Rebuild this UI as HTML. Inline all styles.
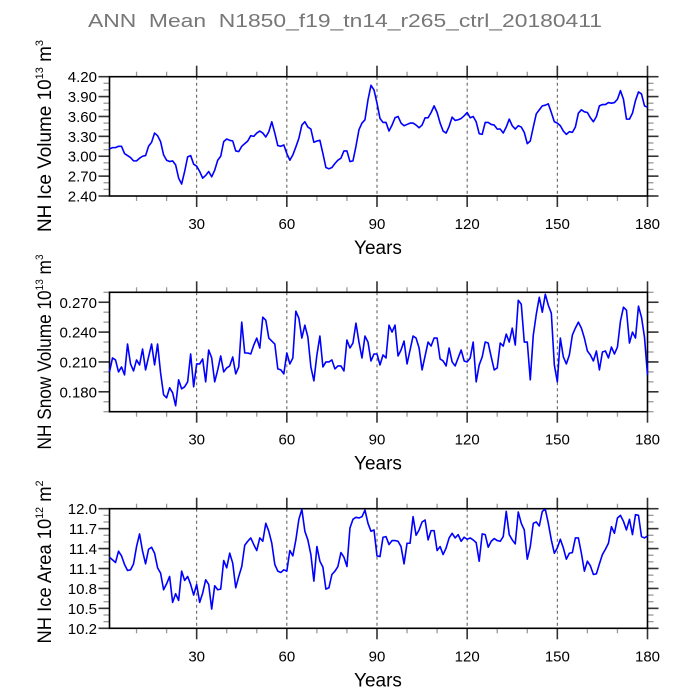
<!DOCTYPE html>
<html><head><meta charset="utf-8"><style>
html,body{margin:0;padding:0;background:#fff;}
svg{display:block;font-family:"Liberation Sans",sans-serif;}
</style></head><body>
<svg id="chart" width="689" height="689" viewBox="0 0 689 689" xmlns="http://www.w3.org/2000/svg">
<rect width="689" height="689" fill="#fff"/>
<text x="345" y="27" text-anchor="middle" font-size="18" fill="#777" textLength="514" lengthAdjust="spacingAndGlyphs" style="white-space:pre">ANN  Mean  N1850_f19_tn14_r265_ctrl_20180411</text>
</svg>
<script>
const years = Array.from({length:180},(_, i)=>i+1);
const xTicks = [30,60,90,120,150,180];
const iceVolume = [3.11,3.13,3.13,3.15,3.15,3.04,3.01,2.98,2.93,2.93,
2.97,3.00,3.01,3.15,3.21,3.35,3.31,3.22,3.02,2.94,
2.92,2.93,2.87,2.67,2.58,2.77,2.99,3.01,2.88,2.85,
2.77,2.67,2.71,2.77,2.69,2.79,2.94,3.00,3.22,3.26,
3.24,3.23,3.08,3.07,3.15,3.19,3.23,3.31,3.30,3.35,
3.38,3.35,3.29,3.37,3.52,3.35,3.16,3.15,3.17,3.04,
2.94,3.02,3.14,3.27,3.47,3.52,3.44,3.41,3.21,3.23,
3.24,3.04,2.83,2.81,2.83,2.89,2.94,2.97,3.08,3.08,
2.92,2.93,3.15,3.40,3.50,3.55,3.85,4.07,4.00,3.80,
3.57,
3.51,3.51,3.38,3.47,3.58,3.60,3.50,3.46,3.48,3.50,
3.50,3.47,3.43,3.47,3.58,3.58,3.66,3.76,3.66,3.50,
3.38,3.35,3.45,3.59,3.54,3.55,3.57,3.61,3.66,3.58,
3.60,3.52,3.34,3.33,3.51,3.51,3.48,3.47,3.41,3.41,
3.35,3.44,3.56,3.46,3.41,3.46,3.44,3.36,3.19,3.23,
3.44,3.64,3.70,3.76,3.77,3.79,3.66,3.52,3.50,3.46,
3.38,3.33,3.37,3.36,3.44,3.65,3.70,3.67,3.66,3.58,
3.52,3.60,3.76,3.78,3.78,3.81,3.80,3.81,3.86,3.99,
3.86,3.56,3.56,3.65,3.84,3.97,3.94,3.76,3.74];
const snowVolume = [.200,.214,.212,.200,.205,.197,.228,.208,.201,.212,
.207,.223,.202,.215,.228,.207,.228,.199,.177,.174,
.184,.179,.166,.192,.183,.185,.190,.218,.185,.208,
.208,.213,.190,.222,.214,.190,.202,.216,.200,.204,
.206,.215,.198,.205,.250,.219,.219,.218,.227,.234,
.224,.255,.252,.234,.231,.228,.203,.202,.198,.219,
.208,.214,.261,.254,.234,.247,.235,.205,.191,.217,
.236,.205,.210,.210,.212,.203,.206,.206,.201,.232,
.224,.229,.249,.230,.214,.236,.230,.211,.218,.218,
.207,
.217,.214,.247,.240,.247,.216,.222,.231,.208,.222,
.236,.234,.224,.202,.216,.230,.226,.234,.234,.213,
.211,.206,.224,.210,.206,.214,.222,.211,.210,.214,
.230,.190,.207,.215,.230,.229,.215,.202,.204,.229,
.226,.238,.230,.244,.227,.272,.268,.230,.230,.192,
.237,.258,.275,.260,.278,.267,.259,.207,.190,.234,
.215,.208,.217,.237,.244,.250,.244,.234,.221,.217,
.211,.221,.202,.220,.221,.214,.225,.218,.225,.251,
.265,.262,.229,.240,.234,.266,.255,.235,.197];
const iceArea = [11.27,11.23,11.19,11.36,11.29,11.16,11.07,11.08,11.17,11.43,
11.62,11.36,11.17,11.39,11.42,11.33,11.11,11.03,10.78,10.87,
10.98,10.59,10.72,10.62,11.06,10.92,10.98,10.86,10.70,10.86,
10.59,10.73,10.93,10.86,10.49,10.84,10.78,10.79,11.22,11.11,
11.33,11.18,10.81,10.98,11.13,11.45,11.51,11.56,11.46,11.37,
11.56,11.51,11.78,11.66,11.48,11.16,11.06,11.04,11.08,11.06,
11.37,11.29,11.53,11.84,11.99,11.66,11.53,11.31,10.91,11.43,
11.21,11.12,10.79,10.81,11.01,11.06,11.13,11.34,11.27,11.13,
11.71,11.84,11.87,11.86,11.88,11.98,11.78,11.66,11.68,11.29,
11.28,
11.57,11.58,11.46,11.52,11.52,11.51,11.43,11.17,11.48,11.48,
11.88,11.60,11.68,11.80,11.83,11.53,11.67,11.67,11.37,11.43,
11.31,11.41,11.56,11.63,11.56,11.61,11.51,11.57,11.54,11.56,
11.53,11.49,11.21,11.62,11.61,11.42,11.51,11.55,11.52,11.51,
11.58,11.96,11.61,11.53,11.47,11.95,11.78,11.68,11.24,11.43,
11.78,11.80,11.74,11.96,11.99,11.78,11.53,11.33,11.41,11.54,
11.41,11.24,11.33,11.34,11.56,11.56,11.33,11.06,11.21,11.14,
11.01,11.02,11.17,11.31,11.39,11.48,11.73,11.63,11.86,11.90,
11.81,11.68,11.84,11.61,11.91,11.90,11.58,11.56,11.59];
const volTicks = [2.40,2.70,3.00,3.30,3.60,3.90,4.20];
const snowTicks = [0.180,0.210,0.240,0.270];
const areaTicks = [10.2,10.5,10.8,11.1,11.4,11.7,12.0];

const NS="http://www.w3.org/2000/svg";
const svg=document.getElementById('chart');
function mk(tag,attrs,parent){const e=document.createElementNS(NS,tag);for(const k in attrs)e.setAttribute(k,attrs[k]);(parent||svg).appendChild(e);return e;}
const X0=109.5,X1=647.5;
function xs(v){return X0+(v-1)*(X1-X0)/179;}

function panel(cfg){
  const g=mk('g',{});
  
  
  const ys=v=>cfg.y1-(v-cfg.min)*(cfg.y1-cfg.y0)/(cfg.max-cfg.min);
  xTicks.forEach(t=>{if(t<180){const l=mk('line',{x1:xs(t),x2:xs(t),y1:cfg.y0,y2:cfg.y1,stroke:'#555','stroke-width':1,'stroke-dasharray':'3,3'},g);
  
  }});
  for(let t=10;t<180;t+=10){if(t%30===0)continue;
    mk('line',{x1:xs(t),x2:xs(t),y1:cfg.y0,y2:cfg.y0-5,stroke:'#999','stroke-width':1.3},g);
    mk('line',{x1:xs(t),x2:xs(t),y1:cfg.y1,y2:cfg.y1+5,stroke:'#999','stroke-width':1.3},g);}
  xTicks.forEach(t=>{
    mk('line',{x1:xs(t),x2:xs(t),y1:cfg.y0,y2:cfg.y0-11,stroke:'#333','stroke-width':1.6},g);
    mk('line',{x1:xs(t),x2:xs(t),y1:cfg.y1,y2:cfg.y1+11,stroke:'#333','stroke-width':1.6},g);
    const tx=mk('text',{x:xs(t),y:cfg.y1+33,'text-anchor':'middle','font-size':15,fill:'#000'},g);
    tx.textContent=t;
    
    
  });
  const step=cfg.ticks[1]-cfg.ticks[0];
  for(let v=cfg.min;v<=cfg.max+1e-9;v+=step/3){
    mk('line',{x1:X0,x2:X0-6,y1:ys(v),y2:ys(v),stroke:'#999','stroke-width':1.3},g);
    mk('line',{x1:X1,x2:X1+6,y1:ys(v),y2:ys(v),stroke:'#999','stroke-width':1.3},g);
  }
  cfg.ticks.forEach(v=>{
    mk('line',{x1:X0,x2:X0-11,y1:ys(v),y2:ys(v),stroke:'#333','stroke-width':1.6},g);
    mk('line',{x1:X1,x2:X1+11,y1:ys(v),y2:ys(v),stroke:'#333','stroke-width':1.6},g);
    const tx=mk('text',{x:97,y:ys(v)+5.5,'text-anchor':'end','font-size':15,fill:'#000'},g);
    tx.textContent=v.toFixed(cfg.dec);
    
    
  });
  const fr=mk('rect',{x:X0,y:cfg.y0,width:X1-X0,height:cfg.y1-cfg.y0,fill:'none',stroke:'#000','stroke-width':1.6},g);
  
  
  const d=cfg.data.map((v,i)=>(i?'L':'M')+xs(years[i]).toFixed(2)+','+ys(v).toFixed(2)).join('');
  const p=mk('path',{d:d,fill:'none',stroke:'#0000ff','stroke-width':1.6,'stroke-linejoin':'round'},g);
  
  
  const xt=mk('text',{x:378,y:cfg.y1+58,'text-anchor':'middle','font-size':19,fill:'#000'},g);
  xt.textContent='Years';
  
  
  const cy=cfg.ycenter;
  const yt=mk('text',{x:0,y:0,'text-anchor':'middle','font-size':19,fill:'#000',textLength:cfg.tlen,lengthAdjust:'spacingAndGlyphs',transform:`translate(51,${cy}) rotate(-90)`},g);
  yt.innerHTML=cfg.label+' 10<tspan dy="-8" font-size="11">'+cfg.exp+'</tspan><tspan dy="8"> m</tspan><tspan dy="-8" font-size="11">'+cfg.mexp+'</tspan>';
  
  
}
panel({name:'ice-volume-panel',data:iceVolume,min:2.4,max:4.2,ticks:volTicks,dec:2,y0:76.7,y1:196,label:'NH Ice Volume',exp:'13',mexp:'3',ycenter:136,tlen:192});
panel({name:'snow-volume-panel',data:snowVolume,min:0.16,max:0.28,ticks:snowTicks,dec:3,y0:292.3,y1:411.7,label:'NH Snow Volume',exp:'13',mexp:'3',ycenter:352,tlen:195});
panel({name:'ice-area-panel',data:iceArea,min:10.2,max:12.0,ticks:areaTicks,dec:1,y0:508.7,y1:628.3,label:'NH Ice Area',exp:'12',mexp:'2',ycenter:562,tlen:163});
</script>
</body></html>
